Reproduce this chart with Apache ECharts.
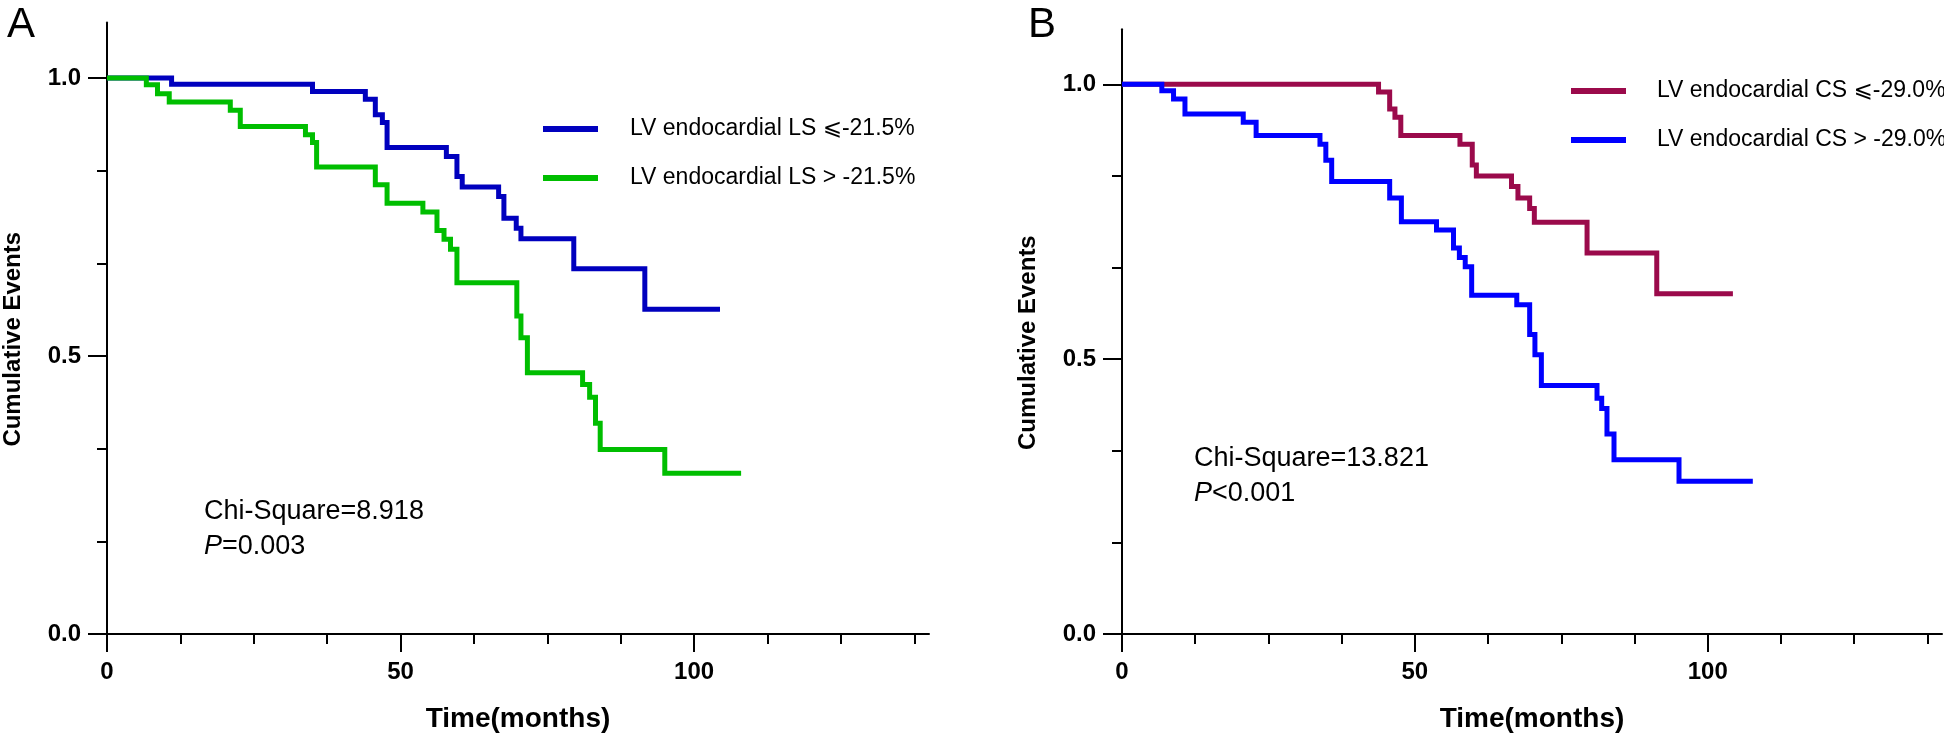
<!DOCTYPE html>
<html>
<head>
<meta charset="utf-8">
<script src="https://cdn.jsdelivr.net/npm/echarts@6/dist/echarts.min.js"></script>
<style>
html,body{margin:0;padding:0;background:#fff;}
#chart{width:1944px;height:738px;}
</style>
</head>
<body>
<div id="chart"></div>
<script>
// ---------- data ----------
// Panel A: LV endocardial LS
var aLowName = 'LV endocardial LS \u2A7D-21.5%';
var aHighName = 'LV endocardial LS > -21.5%';
var aLowTime = [0, 11, 35, 44, 45.7, 46.9, 47.7, 57.8, 59.6, 60.5, 66.7, 67.6, 69.7, 70.5, 79.5, 91.6, 104.4];
var aLowSurv = [1, 0.989, 0.976, 0.962, 0.934, 0.920, 0.875, 0.859, 0.823, 0.804, 0.787, 0.748, 0.730, 0.711, 0.657, 0.584, 0.584];
var aHighTime = [0, 6.7, 8.6, 10.6, 21.0, 22.7, 33.8, 35.0, 35.7, 45.7, 47.7, 53.8, 56.2, 57.4, 58.5, 59.6, 69.8, 70.5, 71.6, 81, 82.2, 83.2, 84, 95, 108];
var aHighSurv = [1, 0.988, 0.972, 0.957, 0.942, 0.913, 0.898, 0.884, 0.840, 0.808, 0.775, 0.759, 0.726, 0.710, 0.692, 0.632, 0.572, 0.533, 0.470, 0.449, 0.426, 0.379, 0.332, 0.289, 0.289];

// Panel B: LV endocardial CS
var bLowName = 'LV endocardial CS \u2A7D-29.0%';
var bHighName = 'LV endocardial CS > -29.0%';
var bLowTime = [0, 43.8, 45.7, 46.6, 47.6, 57.7, 59.8, 60.5, 66.5, 67.6, 69.6, 70.4, 79.4, 91.3, 104.3];
var bLowSurv = [1, 0.986, 0.955, 0.940, 0.907, 0.891, 0.853, 0.833, 0.814, 0.793, 0.774, 0.749, 0.693, 0.619, 0.619];
var bHighTime = [0, 6.8, 8.8, 10.75, 20.7, 22.9, 33.8, 34.8, 35.8, 45.7, 47.7, 53.7, 56.6, 57.6, 58.6, 59.7, 67.4, 69.6, 70.5, 71.6, 81.1, 81.9, 82.8, 84, 95.1, 107.7];
var bHighSurv = [1, 0.988, 0.973, 0.946, 0.931, 0.907, 0.891, 0.862, 0.823, 0.793, 0.750, 0.735, 0.702, 0.685, 0.668, 0.616, 0.599, 0.545, 0.508, 0.452, 0.429, 0.410, 0.364, 0.317, 0.278, 0.278];

// Axis ticks
var xMajorTicks = [0, 50, 100];
var xMinorTicks = [12.5, 25, 37.5, 62.5, 75, 87.5, 112.5, 125, 137.5];
var yMajorTicks = [0, 0.5, 1.0];
var yMinorTicks = [1/6, 2/6, 4/6, 5/6];
var xMax = 140, yMax = 1.1;

// Statistics text
var aChi = 'Chi-Square=8.918', aP = '=0.003';
var bChi = 'Chi-Square=13.821', bP = '<0.001';

// ---------- chart ----------
var FONT = '"Liberation Sans", Arial, "DejaVu Sans", sans-serif';
function pairs(t, s){ return t.map(function(v,i){ return [v, s[i]]; }); }

var chart = echarts.init(document.getElementById('chart'), null, {renderer:'canvas'});

function xAxes(g){
  return [{
    type:'value', gridIndex:g, min:0, max:xMax, position:'bottom',
    axisLine:{show:true, lineStyle:{color:'#000', width:2}},
    axisTick:{show:true, customValues:xMajorTicks, length:18, lineStyle:{color:'#000', width:2}},
    axisLabel:{show:true, customValues:xMajorTicks, fontFamily:FONT, fontSize:24, fontWeight:'bold', color:'#000', margin:26},
    splitLine:{show:false},
    name:'Time(months)', nameLocation:'middle', nameGap:71,
    nameTextStyle:{fontFamily:FONT, fontSize:28, fontWeight:'bold', color:'#000'}
  },{
    type:'value', gridIndex:g, min:0, max:xMax, position:'bottom',
    axisLine:{show:false},
    axisTick:{show:true, customValues:xMinorTicks, length:10, lineStyle:{color:'#000', width:2}},
    axisLabel:{show:false}, splitLine:{show:false}
  }];
}
function yAxes(g){
  return [{
    type:'value', gridIndex:g, min:0, max:yMax, position:'left',
    axisLine:{show:true, lineStyle:{color:'#000', width:2}},
    axisTick:{show:true, customValues:yMajorTicks, length:19, lineStyle:{color:'#000', width:2}},
    axisLabel:{show:true, customValues:yMajorTicks, fontFamily:FONT, fontSize:24, fontWeight:'bold', color:'#000', margin:26,
      formatter:function(v){ return v.toFixed(1); }},
    splitLine:{show:false},
    name:'Cumulative Events', nameLocation:'middle', nameRotate:90, nameGap:82,
    nameTextStyle:{fontFamily:FONT, fontSize:24, fontWeight:'bold', color:'#000', padding:[0,22,0,0]}
  },{
    type:'value', gridIndex:g, min:0, max:yMax, position:'left',
    axisLine:{show:false},
    axisTick:{show:true, customValues:yMinorTicks, length:10, lineStyle:{color:'#000', width:2}},
    axisLabel:{show:false}, splitLine:{show:false}
  }];
}

function stepSeries(name, t, s, color, xi, yi){
  return {
    name:name, type:'line', step:'end', xAxisIndex:xi, yAxisIndex:yi,
    data:pairs(t, s), showSymbol:false, symbol:'none',
    color:color, lineStyle:{color:color, width:5, cap:'butt', join:'miter'},
    itemStyle:{color:color}, emphasis:{disabled:true}, z:3
  };
}

var statStyle = {fontFamily:FONT, fontSize:27, fontWeight:'normal', color:'#000', lineHeight:35,
  rich:{i:{fontFamily:FONT, fontSize:27, fontWeight:'normal', fontStyle:'italic', color:'#000', lineHeight:35}}};

var option = {
  animation:false,
  backgroundColor:'#fff',
  title:[
    {text:'A', left:2, top:-1, textStyle:{fontFamily:FONT, fontSize:42, fontWeight:'normal', color:'#000'}},
    {text:'B', left:1023, top:-1, textStyle:{fontFamily:FONT, fontSize:42, fontWeight:'normal', color:'#000'}},
    {text:aChi + '\n{i|P}' + aP, left:204, top:494, padding:0, textStyle:statStyle},
    {text:bChi + '\n{i|P}' + bP, left:1194, top:441, padding:0, textStyle:statStyle}
  ],
  grid:[
    {left:106, top:22.5, width:823, height:612.5},
    {left:1122, top:29.3, width:820, height:612.4}
  ],
  legend:[
    {data:[aLowName, aHighName], orient:'vertical', left:543, top:117, padding:0,
     itemWidth:55, itemHeight:6, itemGap:25, icon:'rect', selectedMode:false,
     textStyle:{fontFamily:FONT, fontSize:23, color:'#000', lineHeight:24, padding:[0,0,0,27]}},
    {data:[bLowName, bHighName], orient:'vertical', left:1571, top:79, padding:0,
     itemWidth:55, itemHeight:6, itemGap:25, icon:'rect', selectedMode:false,
     textStyle:{fontFamily:FONT, fontSize:23, color:'#000', lineHeight:24, padding:[0,0,0,26]}}
  ],
  xAxis: xAxes(0).concat(xAxes(1)),
  yAxis: yAxes(0).concat(yAxes(1)),
  series:[
    stepSeries(aLowName, aLowTime, aLowSurv, '#0000BE', 0, 0),
    stepSeries(aHighName, aHighTime, aHighSurv, '#00BE00', 0, 0),
    stepSeries(bLowName, bLowTime, bLowSurv, '#9B0A4B', 2, 2),
    stepSeries(bHighName, bHighTime, bHighSurv, '#0000FF', 2, 2)
  ]
};
chart.setOption(option);
</script>
</body>
</html>
